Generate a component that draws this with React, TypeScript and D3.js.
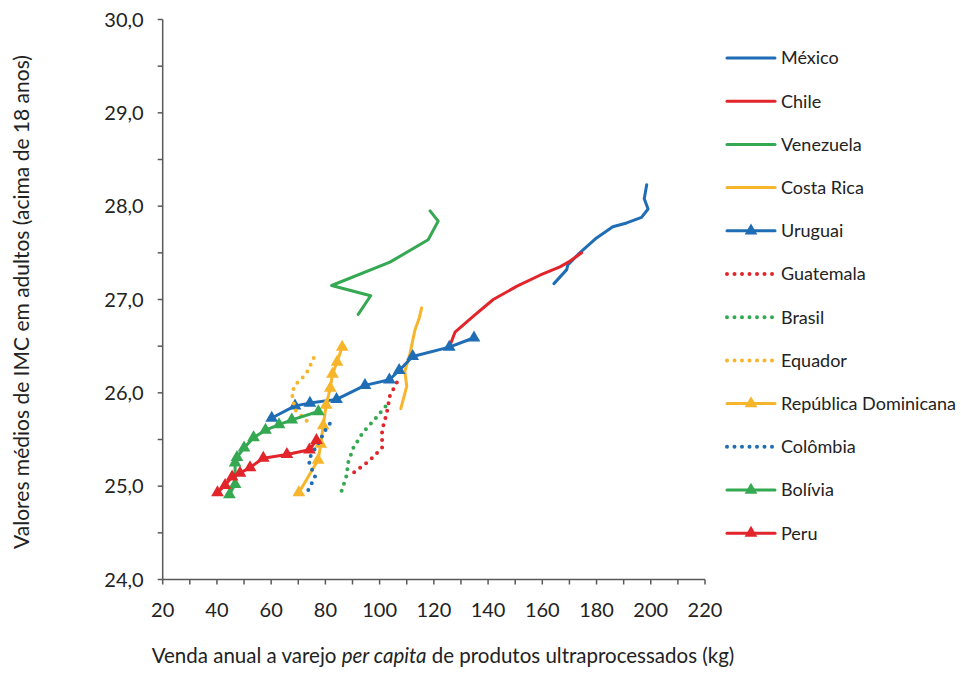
import React from 'react';
import * as d3 from 'd3';

const BLUE = '#1f6db4';
const RED = '#e1252b';
const GREEN = '#35a852';
const YELLOW = '#f7b52c';

// [venda kg per capita, IMC]
const mexico = [[164.3, 27.17], [169.0, 27.32], [169.4, 27.37], [173.8, 27.5], [180.0, 27.66], [186.0, 27.78], [191.1, 27.82], [196.6, 27.88], [199.0, 27.97], [197.6, 28.08], [198.5, 28.23]];
const chile = [[125.7, 26.49], [127.8, 26.65], [134.5, 26.82], [141.9, 27.0], [150.5, 27.14], [159.1, 27.26], [166.5, 27.35], [169.6, 27.4], [174.5, 27.5]];
const venezuela = [[92.1, 26.84], [96.7, 27.04], [82.3, 27.15], [103.8, 27.4], [117.9, 27.64], [121.6, 27.84], [118.6, 27.95]];
const costaRica = [[107.8, 25.83], [110.0, 26.07], [109.3, 26.23], [111.2, 26.42], [113.0, 26.67], [114.6, 26.8], [115.5, 26.91]];
const uruguai = [[60.2, 25.73], [68.8, 25.86], [74.3, 25.89], [84.1, 25.93], [94.6, 26.08], [103.6, 26.14], [107.2, 26.24], [112.2, 26.39], [125.7, 26.49], [134.8, 26.59]];
const guatemala = [[90.6, 25.15], [96.1, 25.27], [100.9, 25.41], [100.9, 25.6], [102.6, 25.78], [103.8, 25.97], [106.9, 26.14]];
const brasil = [[86.0, 24.95], [88.1, 25.14], [88.1, 25.23], [90.3, 25.41], [93.7, 25.57], [98.3, 25.72], [102.6, 25.87]];
const equador = [[73.1, 25.7], [68.8, 25.82], [67.6, 26.0], [69.0, 26.09], [71.8, 26.17], [73.6, 26.24], [76.4, 26.42]];
const repDominicana = [[70.2, 24.93], [77.3, 25.28], [78.3, 25.45], [79.2, 25.65], [80.3, 25.87], [81.8, 26.05], [82.6, 26.2], [84.3, 26.33], [86.2, 26.49]];
const colombia = [[73.7, 24.96], [76.2, 25.1], [74.9, 25.19], [73.7, 25.28], [77.4, 25.46], [80.2, 25.61], [81.9, 25.68]];
const bolivia = [[44.6, 24.91], [46.7, 25.02], [46.7, 25.25], [47.4, 25.31], [50.0, 25.41], [53.5, 25.52], [57.9, 25.6], [62.9, 25.66], [67.6, 25.71], [77.4, 25.8]];
const peru = [[40.2, 24.93], [43.0, 25.01], [45.6, 25.1], [48.5, 25.14], [52.2, 25.2], [57.1, 25.3], [65.8, 25.34], [74.1, 25.39], [76.7, 25.49]];

const series = [
  { name: 'México', color: BLUE, style: 'solid', data: mexico },
  { name: 'Chile', color: RED, style: 'solid', data: chile },
  { name: 'Venezuela', color: GREEN, style: 'solid', data: venezuela },
  { name: 'Costa Rica', color: YELLOW, style: 'solid', data: costaRica },
  { name: 'Uruguai', color: BLUE, style: 'marker', data: uruguai },
  { name: 'Guatemala', color: RED, style: 'dot', data: guatemala },
  { name: 'Brasil', color: GREEN, style: 'dot', data: brasil },
  { name: 'Equador', color: YELLOW, style: 'dot', data: equador },
  { name: 'República Dominicana', color: YELLOW, style: 'marker', data: repDominicana },
  { name: 'Colômbia', color: BLUE, style: 'dot', data: colombia },
  { name: 'Bolívia', color: GREEN, style: 'marker', data: bolivia },
  { name: 'Peru', color: RED, style: 'marker', data: peru },
];

const xTicks = d3.range(20, 221, 20);
const xMinor = d3.range(30, 220, 20);
const yTicks = d3.range(24, 30.01, 1);
const yMinor = d3.range(24.5, 30, 1);

const FONT = 'Lato, "Open Sans", sans-serif';
const AXIS = '#595959';

const tri = d3.symbol().type(d3.symbolTriangle).size(70);

const App = () => {
  const width = 961;
  const height = 684;
  const x = d3.scaleLinear().domain([20, 220]).range([162.7, 705]);
  const y = d3.scaleLinear().domain([24, 30]).range([579.5, 19.5]);
  const line = d3.line().x((d) => x(d[0])).y((d) => y(d[1]));

  const legendX = 727;
  const legendY0 = 58;
  const legendStep = 43.2;

  const strokeProps = (s) =>
    s.style === 'dot'
      ? { strokeWidth: 4, strokeDasharray: '0 7.5', strokeLinecap: 'round' }
      : { strokeWidth: 3, strokeLinejoin: 'round', strokeLinecap: 'round' };

  return (
    <svg width={width} height={height} style={{ position: 'absolute', left: 0, top: 0, background: '#fff' }} fontFamily={FONT}>
      {/* axes */}
      <line x1={x(20)} x2={x(220)} y1={y(24)} y2={y(24)} stroke={AXIS} strokeWidth={1.5} />
      <line x1={x(20)} x2={x(20)} y1={y(24)} y2={y(30)} stroke={AXIS} strokeWidth={1.5} />
      {xTicks.concat(xMinor).map((t) => (
        <line key={'xt' + t} x1={x(t)} x2={x(t)} y1={y(24)} y2={y(24) + 5} stroke={AXIS} strokeWidth={1.5} />
      ))}
      {yTicks.concat(yMinor).map((t) => (
        <line key={'yt' + t} x1={x(20) - 5} x2={x(20)} y1={y(t)} y2={y(t)} stroke={AXIS} strokeWidth={1.5} />
      ))}
      {xTicks.map((t) => (
        <text key={'xl' + t} x={x(t)} y={y(24) + 37} textAnchor="middle" fontSize={20} fill="#222">
          {t}
        </text>
      ))}
      {yTicks.map((t) => (
        <text key={'yl' + t} x={x(20) - 19} y={y(t)} dy="0.35em" textAnchor="end" fontSize={20} fill="#222">
          {t.toFixed(1).replace('.', ',')}
        </text>
      ))}
      <text x={443} y={663} textAnchor="middle" fontSize={20.5} fill="#222">
        Venda anual a varejo <tspan fontStyle="italic">per capita</tspan> de produtos ultraprocessados (kg)
      </text>
      <text transform="translate(29,302) rotate(-90)" textAnchor="middle" fontSize={21} fill="#222">
        Valores médios de IMC em adultos (acima de 18 anos)
      </text>

      {/* series */}
      {series.map((s) => (
        <g key={s.name}>
          <path d={line(s.data)} fill="none" stroke={s.color} {...strokeProps(s)} />
          {s.style === 'marker' &&
            s.data.map((d, i) => (
              <path key={i} d={tri()} transform={`translate(${x(d[0])},${y(d[1])})`} fill={s.color} />
            ))}
        </g>
      ))}

      {/* legend */}
      {series.map((s, i) => {
        const ly = legendY0 + i * legendStep;
        return (
          <g key={'lg' + s.name}>
            <line x1={legendX} x2={legendX + 48} y1={ly} y2={ly} stroke={s.color} {...strokeProps(s)} />
            {s.style === 'marker' && <path d={tri()} transform={`translate(${legendX + 24},${ly})`} fill={s.color} />}
            <text x={legendX + 54} y={ly} dy="0.35em" fontSize={18} fill="#222">
              {s.name}
            </text>
          </g>
        );
      })}
    </svg>
  );
};

export default App;
